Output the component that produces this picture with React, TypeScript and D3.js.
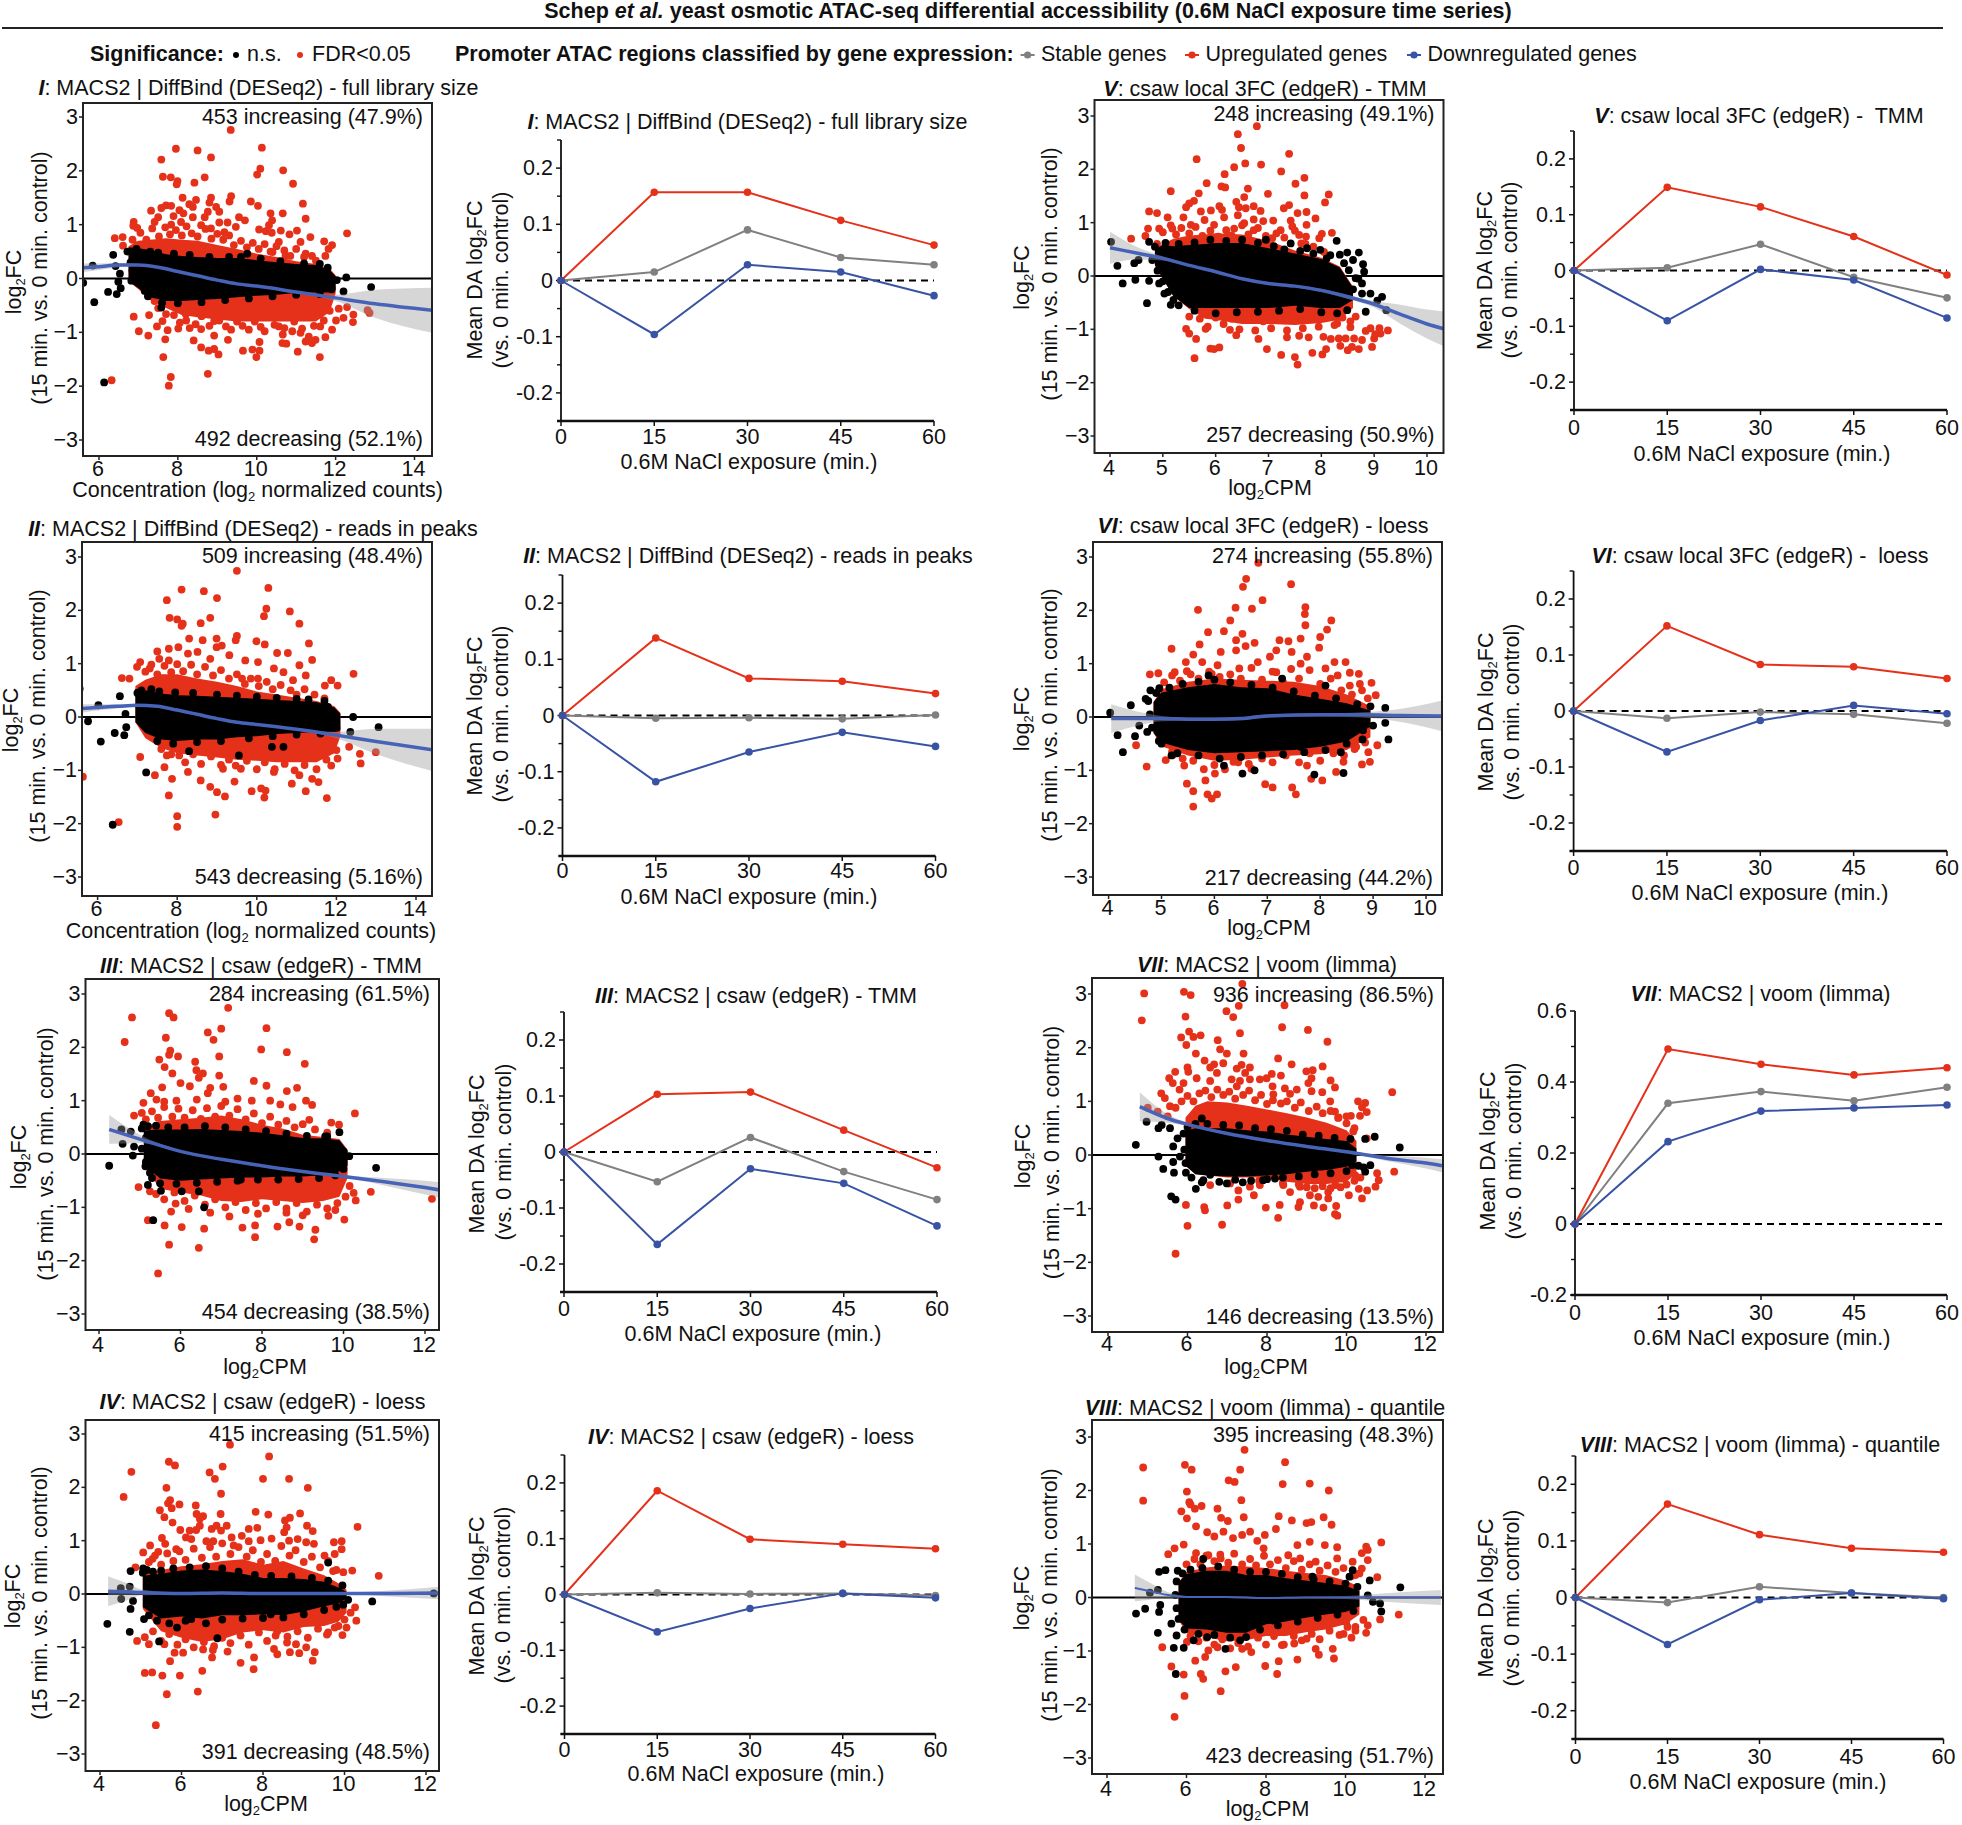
import React from "react";
import * as d3 from "d3";

type P = [number, number];
const FONT = "'Liberation Sans', Arial, sans-serif";
const RED = "#e5301a", GRAY = "#808080", BLUE = "#3953a4", LOESS = "#4763b8";

// ---------- time series ----------
const minutes = [0, 15, 30, 45, 60];
const upI = [0, .157, .157, .107, .063], stI = [0, .015, .09, .041, .028], dnI = [0, -.096, .028, .015, -.027];
const upII = [0, .138, .066, .061, .039], stII = [0, -.005, -.004, -.006, .001], dnII = [0, -.118, -.065, -.03, -.055];
const upIII = [0, .103, .107, .039, -.028], stIII = [0, -.053, .026, -.035, -.085], dnIII = [0, -.165, -.03, -.056, -.132];
const upIV = [0, .186, .099, .09, .082], stIV = [0, .003, .001, .002, -.002], dnIV = [0, -.067, -.025, .002, -.006];
const upV = [0, .149, .114, .061, -.008], stV = [0, .005, .047, -.012, -.049], dnV = [0, -.09, .002, -.017, -.085];
const upVI = [0, .152, .083, .079, .058], stVI = [0, -.013, -.002, -.006, -.022], dnVI = [0, -.073, -.017, .01, -.005];
const upVII = [0, .493, .45, .42, .44], stVII = [0, .34, .373, .347, .385], dnVII = [0, .232, .318, .327, .335];
const upVIII = [0, .165, .111, .087, .08], stVIII = [0, -.009, .019, .008, 0], dnVIII = [0, -.083, -.004, .008, -.002];

// ---------- MA plots: significant regions (red), isolated n.s. regions (black) ----------
const redI: P[] = [[9.34,2.76],[7.95,2.41],[8.5,2.38],[8.84,2.25],[7.58,2.21],[10.13,2.43],[10.09,2.04],[10.01,1.93],[10.67,2.01],[10.92,1.76],[7.62,1.89],[7.82,1.88],[7.99,1.81],[7.97,1.75],[8.42,1.78],[8.68,1.88],[8.12,1.5],[9.35,1.53],[9.31,1.43],[8.84,1.5],[8.8,1.41],[8.46,1.46],[8.29,1.38],[8.38,1.33],[9.85,1.43],[10.03,1.35],[11.17,1.39],[7.7,1.36],[7.58,1.31],[7.83,1.35],[7.32,1.26],[8.04,1.27],[8.14,1.21],[8.97,1.33],[8.76,1.24],[9.05,1.24],[10.35,1.21],[10.66,1.21],[11.24,1.11],[8.38,1.14],[8.68,1.14],[7.5,1.14],[7.89,1.16],[9.55,1.14],[9.7,1.08],[10.39,1.08],[10.31,.99],[6.88,1.05],[6.87,.98],[6.97,.94],[12.29,.84],[7.41,1.05],[7.83,1],[8.08,1.05],[9.05,1.04],[9.26,1.04],[9.47,.96],[9.18,.86],[8.59,.99],[8.84,.93],[10.06,.91],[10.23,.88],[10.38,.85],[10.61,.89],[10.83,.82],[11.02,.89],[6.4,.75],[6.6,.77],[6.61,.61],[11.36,.77],[11.11,.68],[11.71,.69],[11.91,.62],[11.82,.55],[11.74,.42],[11.4,.42],[11.24,.46],[10.56,.68],[10.4,.49],[10.73,.42],
[6.88,-.71],[7.27,-.68],[7.01,-.98],[7.25,-1.06],[7.47,-.89],[7.61,-.79],[7.74,-.96],[7.68,-1.13],[7.63,-1.46],[8.01,-.93],[8.3,-.92],[8.59,-.94],[8.21,-.78],[8.4,-1.15],[8.59,-1.28],[8.78,-1.34],[8.92,-1.31],[9.03,-1.41],[8.76,-1.77],[7.82,-1.83],[7.77,-1.99],[6.32,-1.89],[8.92,-1.06],[9.27,-1.14],[9.65,-1.34],[9.89,-1.32],[10.07,-1.34],[9.99,-1.46],[10.07,-1.18],[10.66,-1.04],[10.65,-1.2],[10.75,-1.21],[11.04,-1.36],[11.6,-1.46],[11.74,-1.09],[10.9,-.98],[11.11,-1.01],[11.24,-1.17],[11.4,-1.2],[11.49,-1.14],[11.32,-1.08],[11.91,-.95],[11.61,-.89],[12.01,-.78],[12.2,-.73],[12.45,-.67],[12.44,-.81],[12.81,-.59],[12.86,-.64],[12.08,-.56],[12.29,-.53],[10.56,-.89],[10.1,-.9],[9.64,-.88],[9.22,-.89],[8.92,-.79],[7.41,-.42]];
const moreRedI: P[] = [[7.05,.85],[7.2,.72],[7.35,.93],[7.52,.78],[7.68,.95],[7.8,.82],[7.95,.9],[8.1,.8],[8.22,.97],[8.35,.84],[8.5,.78],[8.7,.92],[8.85,.74],[9,.83],[9.15,.72],[9.3,.8],[9.42,.62],[9.6,.7],[9.75,.58],[9.9,.66],[10.05,.55],[10.2,.64],[10.35,.5],[10.5,.6],[10.7,.52],[10.85,.42],[11,.55],[11.2,.4],[11.5,.33],[6.85,.72],[6.98,.62],[7.9,-.68],[8.05,-.82],[8.2,-.66],[8.45,-.85],[8.6,-.7],[8.8,-.88],[9.05,-.78],[9.35,-.95],[9.5,-.8],[9.8,-.95],[9.95,-.8],[10.2,-.98],[10.45,-.86],[10.7,-.92],[10.95,-.8],[11.15,-.93],[11.45,-.88],[11.7,-.78],[11.85,-.6],[7.5,-.55],[7.7,-.66]];
const blackI: P[] = [[6.36,.44],[5.84,.24],[6.42,.23],[6.53,.09],[6.49,-.06],[6.55,-.18],[6.45,-.29],[6.23,-.25],[5.88,-.44],[5.6,-.08],[6.13,-1.93],[6.82,-.04],[7.16,-.23],[7.24,-.33],[7.58,-.54],[12.9,-.16],[12.27,.02],[12.03,-.03],[12.2,-.24],[9.76,.46]];
const moreBlackI: P[] = [[6.72,.5],[6.8,.3],[6.85,.15],[6.95,.55],[7.05,.42],[7.12,-.1],[7.3,.5],[7.5,.48],[7.9,.46],[8.3,.44],[8.8,.4],[9.3,.4],[9.6,.4],[10.1,.37],[10.6,.32],[11.2,.28],[11.6,.27],[11.8,.2],[7.6,-.45],[8,-.46],[8.6,-.44],[9.2,-.4],[9.8,-.37],[10.4,-.33],[11,-.3],[11.6,-.29],[11.9,-.2]];
const envI = [[6.75,.6,.58,-.05,-.05],[7,.7,.56,-.18,-.2],[7.3,.72,.53,-.35,-.4],[7.7,.75,.45,-.42,-.55],[8.1,.72,.42,-.42,-.68],[8.5,.7,.4,-.4,-.72],[9,.62,.38,-.38,-.76],[9.5,.55,.38,-.35,-.8],[10,.46,.34,-.32,-.8],[10.5,.4,.3,-.3,-.8],[11,.32,.27,-.27,-.8],[11.5,.27,.25,-.26,-.8],[11.85,.18,.16,-.26,-.62],[12,.06,.04,-.2,-.28]];
const loessI = [[5.6,.2,.08],[6,.22,.06],[6.5,.25,.04],[7,.25,.02],[7.5,.21,.02],[8,.13,.02],[8.5,.05,.02],[9,-.03,.02],[9.5,-.1,.02],[10,-.14,.02],[11,-.25,.02],[12,-.36,.06],[13,-.47,.26],[14.45,-.59,.42]];

const redII: P[] = [[9.5,2.74],[8.11,2.39],[8.67,2.36],[10.29,2.42],[7.74,2.19],[9,2.23],[10.24,2.03],[10.83,1.98],[10.18,1.89],[11.07,1.75],[7.81,1.86],[8,1.83],[8.14,1.75],[8.11,1.71],[8.59,1.76],[8.83,1.86],[9.5,1.52],[9.47,1.44],[9.99,1.42],[10.2,1.36],[11.31,1.38],[6.61,.73],[6.8,.72],[7.07,1.03],[6.99,.94],[7.5,1.23],[7.79,1.28],[8.03,1.31],[8.3,1.47],[8.64,1.44],[8.99,1.47],[9.12,1.34],[8.27,1.19],[8.51,1.22],[8.99,1.31],[8.83,1.09],[9.31,1.16],[9.71,1.06],[10.03,1.03],[10.51,1.2],[10.78,1.2],[11.39,1.07],[10.43,.91],[10.67,.84],[11.07,.97],[11.87,.69],[12.03,.59],[12.43,.81],[11.71,.59],[11.23,.78],[10.91,.69],[10.03,.72],[9.63,.72],[7.55,1.09],[7.31,.91],[7.79,1.06],
[5.63,-1.12],[7.07,-.75],[7.44,-1.09],[7.87,-1.16],[7.79,-1.47],[8,-1.86],[8,-2.06],[8.96,-1.83],[6.53,-1.97],[8.59,-1.19],[8.83,-1.31],[9,-1.41],[9.2,-1.49],[9.44,-1.21],[9.87,-1.39],[10.11,-1.34],[10.19,-1.51],[10.22,-1.38],[10.88,-1.25],[11.23,-1.39],[11.76,-1.52],[11.55,-1.22],[11.07,-1.09],[11.39,-1.16],[12.59,-.69],[12.99,-.66],[12.61,-.87],[12.32,-.56],[12.03,-.78],[11.87,-.91],[7.74,-.72],[7.68,-.94],[8.27,-1.03],[9.15,-.97],[9.47,-.91],[10.43,-1.03]];
const moreRedII: P[] = [[7.2,.85],[7.35,.98],[7.5,.8],[7.68,.96],[7.85,.84],[8,.99],[8.15,.86],[8.35,.98],[8.5,.8],[8.7,.94],[8.9,.78],[9.1,.88],[9.3,.72],[9.5,.8],[9.7,.62],[9.85,.72],[10.05,.58],[10.25,.66],[10.4,.52],[10.6,.6],[10.85,.5],[11,.42],[11.2,.52],[11.45,.42],[11.7,.35],[8.05,-.72],[8.2,-.85],[8.4,-.7],[8.6,-.88],[8.85,-.74],[9.1,-.9],[9.3,-.8],[9.6,-.97],[9.75,-.82],[10,-.98],[10.2,-.85],[10.45,-.98],[10.7,-.88],[10.95,-1],[11.2,-.9],[11.5,-.98],[11.75,-.8],[12,-.62],[7.6,-.6],[7.85,-.7]];
const blackII: P[] = [[6.56,.39],[6.02,.22],[5.76,-.08],[6.08,-.46],[6.43,-.3],[6.67,-.34],[6.7,.06],[6.72,-.19],[6.38,-2.02],[7.22,-1.04],[8.3,-.64],[9.55,-.72],[10.38,-.56],[10.67,-.56],[13.06,-.19],[12.42,0],[12.35,-.28],[11.79,.19],[5.55,.53]];
const moreBlackII: P[] = [[7,.45],[7.05,.2],[7.1,.5],[7.2,-.15],[7.35,.52],[7.55,.48],[7.95,.46],[8.4,.45],[9,.42],[9.5,.4],[10,.38],[10.5,.36],[11,.34],[11.3,.33],[11.7,.3],[7.5,-.45],[7.9,-.5],[8.5,-.47],[9.1,-.45],[9.8,-.4],[10.4,-.36],[11,-.33],[11.6,-.31],[12,-.2]];
const envII = [[6.95,.58,.53,-.1,-.1],[7.2,.7,.5,-.3,-.4],[7.6,.8,.44,-.42,-.58],[8,.8,.41,-.45,-.68],[8.5,.72,.4,-.42,-.72],[9,.66,.38,-.42,-.76],[9.5,.58,.36,-.38,-.8],[10,.48,.34,-.36,-.82],[10.5,.42,.32,-.32,-.85],[11,.36,.3,-.3,-.85],[11.5,.3,.28,-.28,-.85],[11.95,.2,.18,-.28,-.68],[12.1,.08,.06,-.25,-.36]];
const loessII = [[5.6,.16,.08],[6,.18,.06],[6.5,.2,.04],[7,.22,.02],[7.5,.2,.02],[8,.13,.02],[8.5,.05,.02],[9,-.03,.02],[9.5,-.1,.02],[10,-.14,.02],[11,-.23,.02],[12,-.34,.06],[13,-.46,.24],[14.45,-.62,.4]];

const redIII: P[] = [[7.17,2.74],[8.11,2.36],[5.72,2.64],[5.83,2.56],[4.81,2.56],[7,2.35],[6.67,2.28],[6.81,2.14],[7.98,1.96],[8.61,1.91],[9.05,1.69],[5.64,2.18],[4.63,2.1],[6.95,1.83],[5.75,1.94],[5.72,1.86],[5.94,1.83],[5.48,1.77],[5.61,1.63],[5.8,1.51],[6.36,1.73],[6.39,1.57],[6.55,1.51],[6.95,1.47],[6.45,1.43],[7.8,1.37],[8.11,1.28],[8.86,1.24],[8.61,1.18],[6,1.33],[5.55,1.25],[5.27,1.14],[6.23,1.27],[6.73,1.24],[7.05,1.26],[6.67,1.14],[5.09,.96],[5.41,1.02],[9.08,1],[9.23,.92],[4.86,.72],[5.05,.77],[9.16,.64],[10.28,.76],[9.7,.59],[9.89,.55],[7.4,1.04],[7.75,1],[8.2,1],[8.45,.93],[8.75,.88],[7.1,.98],[6.4,1.02],[5.9,1],[5.6,.98],
[4.97,-.62],[5.25,-.7],[5.2,-1.24],[5.61,-1.34],[6.03,-1.37],[6.58,-1.4],[5.72,-1.7],[6.45,-1.76],[5.45,-2.24],[12.17,-.84],[10.67,-.71],[10.25,-.73],[10.3,-.87],[10.02,-1.23],[9.63,-1.16],[9.31,-1.42],[9.28,-1.6],[8.92,-1.36],[8.67,-1.28],[8.38,-1.36],[7.83,-1.34],[7.83,-1.56],[7.52,-1.38],[7.2,-1.17],[6.73,-1.1],[5.88,-.93],[5.77,-1.08],[8.6,-1.1],[9,-1.15],[9.8,-1.05],[6.2,-1.03],[7.9,-1.12]];
const moreRedIII: P[] = [[5.15,.65],[5.3,.8],[5.45,.68],[5.6,.88],[5.8,.7],[5.95,.85],[6.1,.68],[6.3,.82],[6.5,.66],[6.65,.86],[6.85,.7],[7,.9],[7.2,.72],[7.4,.84],[7.6,.65],[7.8,.76],[8,.58],[8.2,.7],[8.4,.55],[8.6,.62],[8.8,.5],[9,.56],[9.3,.46],[9.6,.4],[5.4,-.75],[5.6,-.85],[5.85,-.72],[6.1,-.88],[6.35,-.78],[6.6,-.95],[6.85,-.85],[7.1,-1],[7.35,-.9],[7.6,-1.05],[7.85,-.92],[8.1,-1.02],[8.35,-.9],[8.6,-1.02],[8.85,-.92],[9.1,-1.08],[9.35,-.95],[9.6,-1.02],[9.85,-.92],[10.05,-.8],[10.15,-.6]];
const blackIII: P[] = [[4.25,-.22],[10.8,-.26],[4.55,.46],[4.78,.42],[4.58,.19],[4.86,.14],[4.83,-.03],[5.14,-.23],[5.3,-.45],[5.2,-.58],[5.52,-.69],[6.03,-.7],[6.45,-.7],[6.58,-1],[5.33,-1.24],[7.48,-.48],[10.14,-.04],[9.9,.41],[9.55,.33],[5.09,.55],[10,.05],[10,-.28]];
const moreBlackIII: P[] = [[5.05,.48],[5.15,.3],[5.2,.52],[5.05,.1],[5.15,-.15],[5.25,-.35],[5.4,.53],[5.7,.5],[6.1,.5],[6.6,.52],[7.1,.5],[7.6,.46],[8.1,.43],[8.6,.38],[9.1,.34],[9.6,.33],[5.5,-.55],[5.9,-.56],[6.4,-.54],[6.9,-.52],[7.4,-.5],[7.9,-.48],[8.4,-.48],[8.9,-.47],[9.4,-.45],[9.8,-.4]];
const envIII = [[5.1,.5,.44,-.2,-.22],[5.5,.62,.46,-.46,-.65],[6,.65,.46,-.5,-.72],[6.5,.68,.47,-.48,-.78],[7,.72,.45,-.46,-.88],[7.5,.65,.43,-.44,-.9],[8,.55,.4,-.44,-.85],[8.5,.48,.35,-.42,-.88],[9,.36,.3,-.42,-.92],[9.5,.32,.29,-.4,-.88],[9.9,.28,.26,-.33,-.8],[10.1,.08,.06,-.22,-.45]];
const loessIII = [[4.25,.46,.27],[5,.28,.08],[6,.05,.02],[7,-.1,.02],[8,-.22,.02],[9,-.33,.02],[10,-.42,.02],[11,-.52,.07],[12,-.63,.13],[12.4,-.68,.15]];

const redIV: P[] = [[7.19,2.8],[8.15,2.58],[5.69,2.48],[5.84,2.41],[4.77,2.29],[7.01,2.39],[6.69,2.28],[6.82,2.16],[8,2.16],[8.64,2.16],[9.1,1.99],[5.63,1.99],[4.58,1.82],[6.97,1.88],[5.72,1.76],[5.67,1.7],[5.76,1.61],[5.95,1.68],[5.47,1.57],[5.58,1.44],[5.78,1.34],[6.35,1.66],[6.37,1.5],[6.53,1.46],[6.45,1.41],[6.96,1.5],[7.82,1.54],[8.13,1.49],[8.91,1.51],[8.66,1.43],[8.54,1.38],[10.32,1.26],[9.08,1.28],[9.22,1.18],[6.45,1.28],[6.36,1.2],[5.97,1.2],[6.2,1.19],[6.74,1.22],[6.86,1.28],[7.11,1.28],[6.97,1.19],[7.65,1.22],[7.86,1.24],[8.58,1.25],[8.52,1.16],[5.52,1.05],[6.11,1.06],[6.24,1.03],[5.6,.94],[5.23,.91],[5.87,.84],[5.06,.78],[5.43,.79],[5.29,.66],[6.61,.99],[6.78,.99],[7.23,1.06],[7.48,1.09],[7.28,.91],[7.65,.99],[7.94,1.01],[8.21,1.04],[8.64,1],[8.85,1.03],[9.06,.97],[9.25,.94],[9.74,.97],[9.93,.99],[9.93,.84],[9.76,.75],[9.51,.72],[10.19,.44],[10.84,.34],[4.87,.5],[9.97,.41],[9.72,.43],
[4.91,-.88],[5.1,-1.48],[5.28,-1.47],[5.53,-1.53],[5.96,-1.53],[5.64,-1.88],[6.4,-1.83],[5.37,-2.46],[6.51,-1.44],[5.72,-1.26],[5.83,-1.1],[6.04,-1.1],[5.1,-.81],[5.2,-.94],[5.58,-.94],[6.75,-1.19],[6.77,-1.05],[7.13,-1.08],[6.53,-1.04],[7.45,-1.29],[7.78,-1.19],[7.77,-1.41],[8.27,-1.03],[8.35,-1.13],[8.66,-1.09],[8.89,-1.11],[9.27,-1.09],[9.22,-1.25],[9.06,-1],[8.59,-.91],[8.81,-.94],[8.31,-.78],[9.57,-.76],[9.95,-.77],[10.05,-.63],[10.29,-.5],[10.26,-.25],[9.76,-.63]];
const moreRedIV: P[] = [[5.2,.6],[5.35,.72],[5.5,.55],[5.65,.76],[5.8,.62],[5.95,.8],[6.1,.64],[6.3,.85],[6.5,.68],[6.7,.88],[6.85,.7],[7,.95],[7.2,.75],[7.4,.88],[7.6,.7],[7.75,.82],[7.95,.6],[8.1,.75],[8.3,.62],[8.45,.9],[8.65,.72],[8.8,.82],[9,.6],[9.2,.7],[9.4,.5],[9.6,.62],[9.8,.45],[5.3,-.7],[5.5,-.88],[5.7,-.75],[5.9,-.95],[6.1,-.85],[6.3,-1],[6.55,-.9],[6.8,-.98],[7,-.82],[7.2,-.92],[7.45,-.78],[7.65,-.95],[7.9,-.72],[8.1,-.88],[8.35,-.7],[8.6,-.8],[8.85,-.7],[9.1,-.82],[9.35,-.65],[9.6,-.72],[9.85,-.6],[10,-.48],[10.15,-.35]];
const blackIV: P[] = [[4.18,-.56],[4.73,-.71],[4.52,-.09],[4.51,.11],[4.73,.14],[4.75,.43],[5.06,.48],[4.81,-.13],[4.75,-.28],[5.08,-.47],[5.45,-.89],[5.89,-.63],[6.88,-.83],[9.6,.59],[10.68,-.14],[12.19,.01],[6.24,-.47],[8.19,-.38],[10.09,-.11],[9.97,-.2],[9.95,.16]];
const moreBlackIV: P[] = [[5.05,.4],[5.15,.45],[5.3,.42],[5.5,.44],[5.8,.48],[6.2,.5],[6.6,.52],[7,.48],[7.4,.42],[7.8,.36],[8.2,.34],[8.7,.33],[9.2,.3],[9.6,.25],[5.2,-.4],[5.4,-.5],[5.7,-.55],[6.1,-.5],[6.6,-.55],[7,-.48],[7.5,-.46],[8,-.45],[8.5,-.44],[9,-.38],[9.5,-.3],[9.8,-.24]];
const envIV = [[5.05,.36,.34,-.25,-.28],[5.5,.45,.38,-.46,-.7],[6,.52,.44,-.42,-.82],[6.5,.56,.46,-.46,-.9],[7,.62,.43,-.4,-.85],[7.5,.65,.38,-.4,-.72],[8,.55,.3,-.38,-.68],[8.5,.62,.3,-.4,-.72],[9,.48,.28,-.33,-.62],[9.5,.35,.23,-.23,-.6],[9.85,.2,.12,-.18,-.52],[10.05,.08,.04,-.08,-.35]];
const loessIV = [[4.2,.05,.28],[4.7,.04,.15],[5,.03,.06],[6,.01,.02],[7,.02,.02],[8,.01,.02],[9,.01,.02],[10,.01,.02],[11,.01,.05],[12.4,.02,.12]];

const redV: P[] = [[6.78,2.81],[6.42,2.66],[6.48,2.4],[7.39,2.29],[5.64,2.19],[6.56,2.11],[6.35,2.04],[6.86,2.09],[7.24,1.96],[6.17,1.91],[7.68,1.84],[7.51,1.73],[5.83,1.74],[6.11,1.68],[6.18,1.66],[6.61,1.64],[5.15,1.59],[5.68,1.55],[6.99,1.54],[7.68,1.51],[8.14,1.53],[8.07,1.38],[5.59,1.41],[5.5,1.36],[5.44,1.29],[6.54,1.48],[6.39,1.39],[6.44,1.29],[6.07,1.31],[6.12,1.24],[5.72,1.21],[5.91,1.23],[6.72,1.31],[6.57,1.27],[6.85,1.22],[7.39,1.33],[7.29,1.27],[7.55,1.18],[7.72,1.2],[4.74,1.21],[4.89,1.18],[5.09,1.1],[5.39,1.1],[6.42,1.14],[6.16,1.1],[7.89,1.08],[7.09,1.04],[6.9,1.03],[6.72,1.06],[5.79,1.05],[7.42,1.04],[6.54,.99],[7.72,.96],[7.45,.93],[7.23,.86],[8.2,.81],[8.01,.79],[4.72,.89],[4.67,.75],[4.4,.7],[4.93,.89],[5.18,.89],[5.53,.96],[5.97,.96],[6.35,.89],[6.72,.86],[7.58,.77],[7.71,.74],[7.96,.71],[7.62,.61],[7.07,.71],[4.89,.6],
[5.44,-.99],[5.5,-1.08],[5.63,-1.18],[5.6,-1.54],[5.9,-1.36],[6.07,-1.34],[5.97,-1.37],[5.5,-.76],[5.81,-.99],[6.27,-1.01],[6.39,-1.11],[6.81,-1.18],[6.97,-1.37],[7.24,-1.48],[7.5,-1.52],[7.55,-1.66],[7.83,-1.44],[8.02,-1.47],[8.09,-1.37],[7.58,-1.12],[7.35,-1.15],[7.76,-1.15],[8.04,-1.14],[8.18,-1.18],[8.33,-1.17],[8.46,-1.17],[8.36,-1.31],[8.5,-1.39],[8.58,-1.33],[8.71,-1.37],[8.77,-1.2],[8.96,-1.33],[8.62,-1.17],[8.84,-1.03],[9,-1.17],[9.12,-1.08],[9.26,-1.02],[8.93,-.98],[9.1,-.98],[9.02,-1.09],[8.55,-.96],[8.65,-.76],[8.3,-.89],[7.41,-.48]];
const moreRedV: P[] = [[5,.82],[5.15,.95],[5.25,.78],[5.35,.9],[5.5,.8],[5.62,.92],[5.75,.75],[5.9,.85],[6.05,.74],[6.2,.86],[6.3,.76],[6.5,.95],[6.62,.78],[6.8,.9],[6.95,.75],[7.15,.8],[7.3,.72],[7.5,.85],[7.7,.6],[7.85,.55],[8.05,.45],[5.7,-.8],[5.85,-.95],[6,-.78],[6.15,-.9],[6.3,-.8],[6.45,-1],[6.6,-.82],[6.75,-1.02],[6.9,-.85],[7.05,-.98],[7.2,-.8],[7.35,-1.02],[7.5,-.82],[7.65,-.98],[7.8,-.8],[7.95,-.95],[8.1,-.78],[8.25,-.92],[8.4,-.78],[8.55,-.85]];
const blackV: P[] = [[4.02,.64],[4.14,.19],[4.46,.24],[4.54,.3],[4.24,-.14],[4.48,-.07],[4.74,-.09],[4.7,-.51],[4.93,-.14],[5.03,-.33],[5.15,-.54],[8.29,.66],[8.49,.44],[8.71,.44],[8.79,.22],[8.81,.08],[8.77,-.14],[8.77,-.33],[8.93,-.33],[9.15,-.39],[9.06,-.46],[8.84,-.67],[9.23,-.64],[7.42,.61],[7.73,.52],[7.98,.49],[8.17,.39],[8.43,.24],[8.52,.11],[8.65,-.04],[8.49,-.64],[4.74,.64],[6.95,.68],[8.6,.3],[8.7,-.05],[8.6,-.25],[8.35,.4]];
const moreBlackV: P[] = [[4.85,.55],[4.8,.3],[4.9,.1],[5,-.1],[5.1,-.3],[5.2,-.45],[5.3,-.55],[5.05,.62],[5.3,.6],[5.6,.63],[5.9,.68],[6.2,.66],[6.5,.68],[6.8,.62],[7.1,.56],[7.3,.5],[7.6,.47],[7.85,.42],[8.1,.33],[5.6,-.65],[6,-.7],[6.4,-.68],[6.8,-.67],[7.2,-.65],[7.6,-.62],[8,-.68],[8.3,-.7]];
const envV = [[4.85,.5,.5,.2,.2],[5,.6,.58,-.05,-.05],[5.2,.7,.56,-.38,-.38],[5.5,.76,.58,-.6,-.62],[5.8,.78,.6,-.6,-.8],[6,.8,.62,-.6,-.82],[6.5,.78,.62,-.6,-.9],[7,.66,.52,-.6,-.9],[7.5,.48,.42,-.56,-.92],[8,.34,.32,-.6,-.88],[8.35,.18,.16,-.6,-.82],[8.6,-.2,-.22,-.45,-.6]];
const loessV = [[4,.53,.3],[4.5,.43,.12],[5,.33,.04],[5.5,.2,.02],[6,.08,.02],[6.5,-.05,.02],[7,-.14,.02],[7.5,-.19,.02],[8,-.27,.03],[8.5,-.39,.04],[9,-.53,.06],[9.5,-.72,.18],[10,-.9,.27],[10.35,-1,.33]];

const redVI: P[] = [[6.83,2.89],[6.6,2.59],[6.54,2.44],[7.45,2.49],[6.91,2.19],[5.69,2.01],[6.4,2.05],[6.71,2.03],[7.72,2.06],[7.71,1.93],[8.21,1.81],[6.3,1.81],[7.72,1.72],[8.13,1.64],[5.88,1.59],[6.18,1.61],[6.53,1.56],[8,1.5],[5.19,1.28],[5.72,1.36],[6.41,1.44],[6.76,1.39],[6.59,1.33],[6.41,1.25],[7.23,1.44],[7.4,1.42],[7.63,1.47],[7.98,1.3],[6.12,1.22],[5.6,1.17],[5.46,1.03],[5.77,1.03],[7.17,1.25],[7.46,1.22],[8.27,1.03],[8.48,1.03],[7.75,1.13],[7.63,1],[6.06,.97],[5.95,.81],[4.78,.8],[4.94,.82],[5.25,.84],[5.48,.86],[8.73,.81],[8.56,.83],[8.97,.64],[9.05,.41],[8.1,.91],[8.33,.78],[8.79,.5],[8.56,.59],[7.17,.84],[6.47,.91],[6.82,1.03],[7.05,1.13],
[4.52,-.53],[4.72,-.93],[5.08,-.81],[5.22,-.71],[5.48,-1.25],[5.6,-1.39],[5.6,-1.68],[5.87,-1.45],[5.95,-1.53],[6.05,-1.45],[5.83,-1.19],[6.01,-1.06],[6.96,-1.26],[7.1,-1.32],[7.47,-1.32],[7.54,-1.45],[7.83,-1.16],[8.04,-1.19],[7.75,-.91],[8.3,-1.03],[8.79,-.89],[8.94,-.84],[9.08,-.53],[8.91,-.66],[8.68,-.56],[8.44,-.84],[6.7,-.97],[6.36,-.84],[5.43,-.91]];
const moreRedVI: P[] = [[5.05,.65],[5.2,.78],[5.35,.68],[5.55,.8],[5.7,.72],[5.9,.85],[6.1,.75],[6.3,.8],[6.5,.72],[6.7,.92],[6.9,.7],[7.1,.85],[7.3,.65],[7.45,.9],[7.6,.72],[7.8,.88],[8,.62],[8.2,.72],[8.4,.5],[8.6,.42],[8.75,.62],[8.9,.35],[5.2,-.65],[5.4,-.78],[5.6,-.82],[5.8,-.98],[6,-.9],[6.2,-.98],[6.45,-.85],[6.65,-.88],[6.9,-.78],[7.1,-.85],[7.35,-.72],[7.6,-.85],[7.8,-.68],[8,-.82],[8.25,-.68],[8.45,-.72],[8.65,-.6],[8.85,-.48]];
const blackVI: P[] = [[4.03,.08],[4.42,.22],[4.17,-.34],[4.27,-.66],[4.5,-.36],[4.58,-.16],[4.73,-.28],[5,-.5],[5.19,-.72],[4.79,.5],[4.96,.54],[4.7,.34],[9.23,.17],[9.23,-.11],[9.29,-.42],[8.81,-.25],[9,-.16],[7.89,-1.08],[8.44,-1.05],[6.53,-1.06],[6.76,-1],[6.18,-.91],[5.89,.78],[7.28,.72],[8.1,.59],[8.39,-.66],[7.63,-.56],[8.62,-.28]];
const moreBlackVI: P[] = [[4.75,.3],[4.78,.05],[4.82,-.2],[4.9,.45],[5.15,.55],[5.4,.62],[5.7,.66],[6,.7],[6.3,.65],[6.7,.6],[7.1,.55],[7.5,.48],[7.9,.4],[8.3,.35],[8.7,.24],[8.95,.2],[4.95,-.45],[5.3,-.68],[5.7,-.72],[6.1,-.78],[6.5,-.75],[6.9,-.72],[7.3,-.7],[7.7,-.66],[8.1,-.62],[8.5,-.5],[8.8,-.42]];
const envVI = [[4.85,.28,.28,-.3,-.3],[5,.52,.46,-.48,-.55],[5.5,.66,.56,-.62,-.72],[6,.72,.62,-.68,-.82],[6.5,.7,.56,-.66,-.8],[7,.68,.54,-.64,-.76],[7.5,.66,.42,-.62,-.72],[8,.58,.34,-.56,-.7],[8.5,.42,.26,-.46,-.62],[8.95,.2,.12,-.18,-.38]];
const loessVI = [[4.05,-.03,.27],[4.6,-.03,.12],[5,-.03,.05],[5.5,-.04,.03],[6,-.04,.03],[6.5,-.03,.03],[7,.02,.03],[8,.04,.03],[8.8,.04,.05],[9.5,.03,.12],[10.35,.02,.3]];

const redVII: P[] = [[7.38,3.19],[4.91,3.01],[5.91,3.04],[6.08,2.98],[8.44,2.79],[7.29,2.78],[6.98,2.68],[7.15,2.57],[4.85,2.51],[5.95,2.58],[8.38,2.38],[9.03,2.33],[7.32,2.27],[6.04,2.3],[5.84,2.19],[6.15,2.2],[6.33,2.23],[5.97,2.05],[6.76,2.14],[9.52,2.11],[6.21,1.89],[6.82,1.97],[6.99,1.89],[7.41,1.89],[6.43,1.76],[6.9,1.71],[8.28,1.8],[8.62,1.69],[9.4,1.65],[6.67,1.69],[6.57,1.63],[6,1.63],[6.02,1.55],[5.69,1.55],[7.24,1.61],[7.36,1.68],[7.57,1.63],[6.74,1.53],[7.45,1.53],[8.99,1.56],[9.15,1.58],[8.35,1.48],[8.12,1.51],[5.54,1.43],[6.23,1.43],[6.57,1.38],[7.11,1.41],[7.32,1.38],[7.82,1.41],[7.99,1.43],[9.12,1.43],[9.6,1.39],[5.63,1.34],[5.9,1.34],[7.57,1.41],[9.04,1.34],[9.71,1.26],[7.24,1.28],[8.14,1.28],[8.45,1.24],[8.75,1.22],[11.15,1.17],[5.34,1.15],[5.8,1.22],[8.58,1.14],[9.12,1.19],[9.39,1.17],[5.43,1.06],[8.16,1.13],[9.59,1],[10.29,1],[10.47,.97],[10.39,.89],[10.51,.8],[10.34,.73],[10.11,.73],[9.71,.81],[9.79,.69],[10,.59],[10.17,.44],[10.51,.31],[5.56,.91],[5,.88],[5.25,.81],
[5.96,-.93],[6.42,-.97],[6.44,-1.03],[6,-1.32],[5.7,-1.84],[6.87,-1.3],[7,-.94],[7.28,-.83],[7.28,-.66],[7.67,-.75],[7.97,-.98],[8.32,-.93],[8.28,-1.17],[8.79,-.97],[8.83,-.88],[9.18,-.94],[9.42,-.98],[9.74,-.95],[9.71,-1.1],[9.77,-1.13],[9.54,-.81],[9.29,-.78],[9.08,-.75],[9.54,-.69],[8.83,-.59],[8.58,-.69],[8.41,-.56],[7.82,-.56],[7.57,-.59],[7.07,-.53],[6.57,-.56],[10.06,-.75],[10.39,-.81],[10.31,-.63],[10.52,-.66],[10.77,-.34],[10.81,-.47],[10.73,-.59],[11.2,-.31],[10.22,-.38],[9.72,-.56],[9.93,-.44],[9.42,-.44]];
const moreRedVII: P[] = [[5.5,.72],[5.7,.88],[5.85,1],[6,1.1],[6.15,1],[6.3,1.15],[6.45,1.2],[6.6,1.08],[6.75,1.22],[6.9,1.12],[7.05,1.18],[7.2,1.05],[7.4,1.12],[7.55,1.2],[7.7,1.02],[7.85,1.12],[8,.95],[8.15,1.02],[8.35,.96],[8.5,1],[8.7,.88],[8.85,.98],[9.05,.82],[9.25,.9],[9.4,.78],[9.6,.82],[9.8,.7],[10,.72],[10.2,.5],[7.8,-.48],[8.4,-.52],[8.8,-.55],[9,-.6],[9.2,-.62],[9.4,-.58],[9.6,-.62],[9.85,-.6],[10,-.55],[10.2,-.48],[10.35,-.42]];
const blackVII: P[] = [[4.7,.19],[4.97,.62],[5.27,.5],[5.35,.56],[5.56,.5],[5.64,.16],[5.27,-.03],[5.64,-.13],[5.39,-.26],[5.66,-.33],[5.59,-.77],[5.7,-.83],[6.21,-.63],[6.36,-.51],[5.96,-.33],[5.75,.31],[5.81,-.03],[6.36,.68],[10.71,.34],[10.47,.3],[11.34,.14],[10.6,-.19],[10.43,-.23],[10.47,-.31],[10.14,-.19],[6.99,-.53],[7.39,-.51],[6.57,-.37],[7.9,-.47],[8.2,-.44]];
const moreBlackVII: P[] = [[5.9,.4],[5.92,.1],[5.95,-.15],[6,.52],[6.2,.58],[6.5,.58],[6.9,.56],[7.3,.55],[7.7,.5],[8.1,.48],[8.5,.45],[8.9,.38],[9.3,.36],[9.7,.32],[10.1,.3],[6.1,-.42],[6.4,-.47],[6.8,-.5],[7.2,-.46],[7.6,-.48],[8,-.45],[8.4,-.42],[8.8,-.4],[9.2,-.36],[9.6,-.34],[10,-.3],[10.3,-.2]];
const envVII = [[5.95,.7,.45,-.2,-.2],[6.2,.92,.5,-.36,-.36],[6.5,1,.5,-.38,-.38],[7,.98,.5,-.4,-.42],[7.5,.92,.46,-.4,-.42],[8,.85,.44,-.38,-.42],[8.5,.78,.38,-.36,-.5],[9,.7,.34,-.31,-.54],[9.5,.6,.3,-.28,-.54],[10,.46,.26,-.22,-.5],[10.25,.26,.12,-.12,-.34]];
const loessVII = [[4.8,.9,.27],[5.5,.68,.08],[6,.57,.03],[7,.4,.02],[8,.27,.02],[9,.16,.02],[10,.06,.02],[11,-.06,.05],[12,-.15,.1],[12.4,-.2,.12]];

const redVIII: P[] = [[7.46,2.76],[8.48,2.53],[4.91,2.43],[5.96,2.48],[6.13,2.39],[7.35,2.39],[7.06,2.19],[7.21,2.16],[8.42,2.12],[9.1,2.13],[9.58,2],[6.01,1.98],[4.91,1.81],[7.38,1.82],[6.07,1.78],[6.1,1.74],[5.87,1.61],[6.21,1.66],[6.38,1.71],[6.01,1.48],[6.24,1.33],[6.78,1.66],[6.87,1.49],[7.04,1.43],[7.44,1.5],[8.32,1.52],[8.65,1.44],[9.45,1.5],[9.65,1.36],[9.02,1.39],[9.14,1.41],[8.25,1.28],[7.97,1.17],[7.6,1.23],[7.4,1.17],[6.93,1.23],[6.52,1.22],[6.7,1.14],[7.17,1.11],[7.78,1.06],[8.79,.98],[9.1,1.04],[9.48,.98],[9.79,.94],[10.52,.95],[10.56,.89],[10.9,1.03],[10.41,.83],[5.93,.99],[5.7,.92],[5.54,.81],[6.24,.83],[6.55,.79],[6.86,.73],[7.94,.92],[8.56,.79],[8.86,.73],[9.25,.67],[9.79,.73],[10.18,.67],[10.56,.7],[10.8,.38],[10.25,.42],[10.41,.54],
[5.39,-.93],[5.62,-1.29],[5.93,-1.44],[6.36,-1.43],[6.42,-1.52],[6.86,-1.75],[5.95,-1.84],[5.7,-2.23],[6.22,-1.18],[6.47,-1.11],[6.98,-1.38],[7.24,-1.3],[7.98,-1.28],[8.28,-1.43],[8.32,-1.19],[8.79,-1.16],[9.33,-1.07],[9.71,-1.14],[9.68,-.96],[9.25,-.96],[8.71,-.86],[10.15,-.75],[10.52,-.66],[10.56,-.52],[10.87,-.41],[11.34,-.32],[10.25,-.55],[10.02,-.46],[7.63,-1.02],[7.4,-.96],[6.55,-.99],[6.78,-.93],[6.01,-.83],[9.95,-.68],[9.02,-.77],[8.4,-.89]];
const moreRedVIII: P[] = [[6,.62],[6.2,.72],[6.35,.62],[6.5,.78],[6.7,.68],[6.85,.8],[7.05,.65],[7.2,.82],[7.4,.62],[7.6,.72],[7.75,.6],[7.95,.78],[8.1,.62],[8.3,.7],[8.5,.55],[8.7,.68],[8.9,.52],[9.1,.62],[9.35,.5],[9.55,.6],[9.75,.48],[9.95,.55],[10.15,.4],[10.35,.45],[6.1,-.72],[6.3,-.82],[6.5,-.75],[6.7,-.88],[6.9,-.78],[7.1,-.95],[7.3,-.85],[7.55,-.92],[7.8,-.75],[8,-.88],[8.2,-.72],[8.45,-.88],[8.7,-.72],[8.9,-.8],[9.15,-.68],[9.35,-.78],[9.6,-.62],[9.85,-.7],[10.05,-.55],[10.25,-.62],[10.45,-.42]];
const blackVIII: P[] = [[4.73,-.3],[4.96,-.21],[5.08,.09],[5.28,.14],[5.31,-.27],[5.34,-.14],[5.28,-.66],[5.62,-.49],[5.75,-.71],[5.68,-.94],[5.93,-.94],[6.18,-.8],[5.73,-1.43],[5.31,.48],[5.47,.51],[5.78,.5],[6.42,.72],[6.52,-.74],[6.98,-.96],[7.35,-.8],[11.38,.19],[10.56,.04],[10.69,-.08],[10.87,-.11],[10.9,-.26],[10.61,.32],[10.18,.51],[10.1,.39],[9.17,.39],[8.17,-.43]];
const moreBlackVIII: P[] = [[5.75,.3],[5.72,.05],[5.75,-.2],[5.8,-.4],[5.9,.45],[6.1,.52],[6.4,.55],[6.8,.58],[7.2,.52],[7.6,.48],[8,.48],[8.4,.44],[8.8,.38],[9.2,.34],[9.6,.3],[10,.26],[10.3,.2],[5.95,-.6],[6.3,-.68],[6.7,-.7],[7.1,-.75],[7.5,-.74],[7.85,-.6],[8.3,-.52],[8.8,-.45],[9.3,-.38],[9.8,-.32],[10.2,-.25]];
const envVIII = [[5.8,.28,.28,-.42,-.42],[6,.48,.44,-.58,-.66],[6.5,.56,.5,-.6,-.74],[7,.6,.5,-.66,-.82],[7.5,.58,.42,-.66,-.8],[8,.55,.42,-.5,-.72],[8.5,.5,.36,-.45,-.72],[9,.46,.32,-.38,-.65],[9.5,.42,.27,-.32,-.6],[10,.32,.22,-.27,-.5],[10.35,.2,.12,-.17,-.32]];
const loessVIII = [[4.7,.18,.25],[5,.13,.18],[5.5,.05,.06],[6,.01,.02],[7,.01,.02],[8,-.01,.02],[9,0,.02],[10,0,.03],[11,0,.08],[12.4,0,.14]];

// ---------- panel tables ----------
const scatterPanels = [
  { n: "I", rest: ": MACS2 | DiffBind (DESeq2) - full library size", up: "453 increasing (47.9%)", dn: "492 decreasing (52.1%)", red: [...redI, ...moreRedI], black: [...blackI, ...moreBlackI], env: envI, loess: loessI, box: [83, 432, 103, 456], xt: [6, 14], xp: [99, 414.5], yp: [117, 440], ticks: [6, 8, 10, 12, 14], tx: 258.5, ty: 88, upY: 117, dnY: 439, xlab: 0, xlX: 257.6, xlY: 490, xtY: 469, l1: [14, 282], l2: [40, 278], lw: 3.5 },
  { n: "II", rest: ": MACS2 | DiffBind (DESeq2) - reads in peaks", up: "509 increasing (48.4%)", dn: "543 decreasing (5.16%)", red: [...redII, ...moreRedII], black: [...blackII, ...moreBlackII], env: envII, loess: loessII, box: [82, 432, 542, 896], xt: [6, 14], xp: [97.6, 416], yp: [557, 877], ticks: [6, 8, 10, 12, 14], tx: 253, ty: 529, upY: 556, dnY: 877, xlab: 0, xlX: 251, xlY: 931, xtY: 909, l1: [11, 720], l2: [38, 716], lw: 3.5 },
  { n: "III", rest: ": MACS2 | csaw (edgeR) - TMM", up: "284 increasing (61.5%)", dn: "454 decreasing (38.5%)", red: [...redIII, ...moreRedIII], black: [...blackIII, ...moreBlackIII], env: envIII, loess: loessIII, box: [85.5, 439, 979, 1330], xt: [4, 12], xp: [99, 425], yp: [994, 1314], ticks: [4, 6, 8, 10, 12], tx: 261, ty: 966, upY: 994, dnY: 1312, xlab: 1, xlX: 265, xlY: 1367, xtY: 1345, l1: [19, 1157], l2: [46, 1154], lw: 3.5 },
  { n: "IV", rest: ": MACS2 | csaw (edgeR) - loess", up: "415 increasing (51.5%)", dn: "391 decreasing (48.5%)", red: [...redIV, ...moreRedIV], black: [...blackIV, ...moreBlackIV], env: envIV, loess: loessIV, box: [85.5, 439, 1420, 1771], xt: [4, 12], xp: [100, 426], yp: [1434, 1754], ticks: [4, 6, 8, 10, 12], tx: 262.5, ty: 1402, upY: 1434, dnY: 1752, xlab: 1, xlX: 266, xlY: 1804, xtY: 1784, l1: [13, 1596], l2: [40, 1593], lw: 3.5 },
  { n: "V", rest: ": csaw local 3FC (edgeR) - TMM", up: "248 increasing (49.1%)", dn: "257 decreasing (50.9%)", red: [...redV, ...moreRedV], black: [...blackV, ...moreBlackV], env: envV, loess: loessV, box: [1094.5, 1443.5, 100, 453], xt: [4, 10], xp: [1110, 1427], yp: [116, 436], ticks: [4, 5, 6, 7, 8, 9, 10], tx: 1265, ty: 89, upY: 114, dnY: 435, xlab: 1, xlX: 1270, xlY: 488, xtY: 468, l1: [1021.5, 277.5], l2: [1050, 274], lw: 3.5 },
  { n: "VI", rest: ": csaw local 3FC (edgeR) - loess", up: "274 increasing (55.8%)", dn: "217 decreasing (44.2%)", red: [...redVI, ...moreRedVI], black: [...blackVI, ...moreBlackVI], env: envVI, loess: loessVI, box: [1093, 1442, 542, 895], xt: [4, 10], xp: [1108.6, 1426], yp: [557, 877], ticks: [4, 5, 6, 7, 8, 9, 10], tx: 1263, ty: 526, upY: 556, dnY: 878, xlab: 1, xlX: 1269, xlY: 928, xtY: 908, l1: [1021.5, 719], l2: [1050, 715], lw: 3.5 },
  { n: "VII", rest: ": MACS2 | voom (limma)", up: "936 increasing (86.5%)", dn: "146 decreasing (13.5%)", red: [...redVII, ...moreRedVII], black: [...blackVII, ...moreBlackVII], env: envVII, loess: loessVII, box: [1092, 1443, 978, 1332], xt: [4, 12], xp: [1108, 1426], yp: [994, 1316], ticks: [4, 6, 8, 10, 12], tx: 1267, ty: 965, upY: 995, dnY: 1317, xlab: 1, xlX: 1266, xlY: 1367, xtY: 1344, l1: [1023, 1156], l2: [1052, 1152.5], lw: 3.5 },
  { n: "VIII", rest: ": MACS2 | voom (limma) - quantile", up: "395 increasing (48.3%)", dn: "423 decreasing (51.7%)", red: [...redVIII, ...moreRedVIII], black: [...blackVIII, ...moreBlackVIII], env: envVIII, loess: loessVIII, box: [1092, 1443, 1420, 1774], xt: [4, 12], xp: [1107, 1425], yp: [1437, 1758], ticks: [4, 6, 8, 10, 12], tx: 1265, ty: 1408, upY: 1435, dnY: 1756, xlab: 1, xlX: 1267.5, xlY: 1809, xtY: 1789, l1: [1021.5, 1598], l2: [1050, 1595], lw: 2 },
];

const lineDefaultTicks = [-0.2, -0.1, 0, 0.1, 0.2];
const lineDefaultMinor = [-0.25, -0.15, -0.05, 0.05, 0.15, 0.25];
const linePanels = [
  { n: "I", rest: ": MACS2 | DiffBind (DESeq2) - full library size", up: upI, st: stI, dn: dnI, xp: [561, 934], yd: [-.25, .25], yp: [421, 140], tx: 747.5, ty: 122, xtY: 437, xlX: 749, xlY: 462, l1: [475, 280], l2: [500.6, 280] },
  { n: "II", rest: ": MACS2 | DiffBind (DESeq2) - reads in peaks", up: upII, st: stII, dn: dnII, xp: [562.5, 935.5], yd: [-.25, .25], yp: [856, 575], tx: 748, ty: 556, xtY: 871, xlX: 749, xlY: 897, l1: [475, 716], l2: [500.6, 714] },
  { n: "III", rest: ": MACS2 | csaw (edgeR) - TMM", up: upIII, st: stIII, dn: dnIII, xp: [564, 937], yd: [-.25, .25], yp: [1292, 1012], tx: 756, ty: 996, xtY: 1309, xlX: 753, xlY: 1334, l1: [477, 1154], l2: [504, 1152] },
  { n: "IV", rest: ": MACS2 | csaw (edgeR) - loess", up: upIV, st: stIV, dn: dnIV, xp: [564.5, 935.5], yd: [-.25, .25], yp: [1734, 1455], tx: 751, ty: 1437, xtY: 1750, xlX: 756, xlY: 1774, l1: [477, 1596], l2: [502.5, 1595] },
  { n: "V", rest: ": csaw local 3FC (edgeR) -  TMM", up: upV, st: stV, dn: dnV, xp: [1574, 1947], yd: [-.25, .25], yp: [410, 131], tx: 1759, ty: 116, xtY: 428, xlX: 1762, xlY: 454, l1: [1485, 270.5], l2: [1510, 270] },
  { n: "VI", rest: ": csaw local 3FC (edgeR) -  loess", up: upVI, st: stVI, dn: dnVI, xp: [1573.6, 1947], yd: [-.25, .25], yp: [851, 571], tx: 1760, ty: 556, xtY: 868, xlX: 1760, xlY: 893, l1: [1486, 712], l2: [1512, 712] },
  { n: "VII", rest: ": MACS2 | voom (limma)", up: upVII, st: stVII, dn: dnVII, xp: [1575, 1947], yd: [-.2, .6], yp: [1295, 1011], tx: 1760.5, ty: 994, xtY: 1313, xlX: 1762, xlY: 1338, l1: [1488, 1151], l2: [1514, 1151], ticks: [-.2, 0, .2, .4, .6], minor: [-.1, .1, .3, .5] },
  { n: "VIII", rest: ": MACS2 | voom (limma) - quantile", up: upVIII, st: stVIII, dn: dnVIII, xp: [1575.5, 1943.5], yd: [-.25, .25], yp: [1739, 1456], tx: 1760, ty: 1445, xtY: 1757, xlX: 1758, xlY: 1782, l1: [1486, 1598], l2: [1512, 1598] },
];

const FS = 21.5;
const T = (p: any) => <text fontFamily={FONT} fontSize={FS} fill="#111" dominantBaseline="central" {...p} />;
const Sub = ({ base, sub, after }: any) => (
  <>
    {base}
    <tspan dy={6} fontSize={13}>{sub}</tspan>
    <tspan dy={-6}>{after}</tspan>
  </>
);
const Title = ({ n, rest, x, y }: any) => (
  <T x={x} y={y} textAnchor="middle" style={{ whiteSpace: "pre" }}>
    <tspan fontWeight="bold" fontStyle="italic">{n}</tspan>
    {rest}
  </T>
);
const YLab = ({ x, y, children }: any) => (
  <T textAnchor="middle" transform={`translate(${x},${y}) rotate(-90)`}>{children}</T>
);

const DOT = 3.9;
function Scatter({ p, id }: any) {
  const [L, R, Tp, B] = p.box;
  const x = d3.scaleLinear().domain(p.xt).range(p.xp);
  const y = d3.scaleLinear().domain([3, -3]).range(p.yp);
  const cid = `clip${id}`;
  const redArea = d3.area<number[]>().x((d) => x(d[0])).y0((d) => y(d[4])).y1((d) => y(d[1]));
  const blkArea = d3.area<number[]>().x((d) => x(d[0])).y0((d) => y(d[3])).y1((d) => y(d[2]));
  const band = d3.area<number[]>().x((d) => x(d[0])).y0((d) => y(d[1] - d[2])).y1((d) => y(d[1] + d[2])).curve(d3.curveMonotoneX);
  const line = d3.line<number[]>().x((d) => x(d[0])).y((d) => y(d[1])).curve(d3.curveMonotoneX);
  return (
    <g>
      <clipPath id={cid}><rect x={L} y={Tp} width={R - L} height={B - Tp} /></clipPath>
      <Title n={p.n} rest={p.rest} x={p.tx} y={p.ty} />
      <g clipPath={`url(#${cid})`}>
        <line x1={L} x2={R} y1={y(0)} y2={y(0)} stroke="#000" strokeWidth={2} />
        <path d={redArea(p.env) || ""} fill={RED} />
        {p.red.map((d: P, i: number) => <circle key={i} cx={x(d[0])} cy={y(d[1])} r={DOT} fill={RED} />)}
        <path d={blkArea(p.env) || ""} fill="#000" />
        {p.black.map((d: P, i: number) => <circle key={i} cx={x(d[0])} cy={y(d[1])} r={DOT} fill="#000" />)}
        <path d={band(p.loess) || ""} fill="#999" fillOpacity={0.4} />
        <path d={line(p.loess) || ""} fill="none" stroke={LOESS} strokeWidth={p.lw} />
      </g>
      <rect x={L} y={Tp} width={R - L} height={B - Tp} fill="none" stroke="#222" strokeWidth={2} />
      {[3, 2, 1, 0, -1, -2, -3].map((t) => (
        <g key={t}>
          <line x1={L - 4} x2={L} y1={y(t)} y2={y(t)} stroke="#222" strokeWidth={1.5} />
          <T x={L - 5} y={y(t)} textAnchor="end">{t < 0 ? `\u2212${-t}` : t}</T>
        </g>
      ))}
      {p.ticks.map((t: number) => (
        <g key={t}>
          <line x1={x(t)} x2={x(t)} y1={B} y2={B + 4} stroke="#222" strokeWidth={1.5} />
          <T x={x(t) - 1} y={p.xtY} textAnchor="middle">{t}</T>
        </g>
      ))}
      <T x={R - 9} y={p.upY} textAnchor="end">{p.up}</T>
      <T x={R - 9} y={p.dnY} textAnchor="end">{p.dn}</T>
      <T x={p.xlX} y={p.xlY} textAnchor="middle">
        {p.xlab === 0
          ? <Sub base="Concentration (log" sub="2" after=" normalized counts)" />
          : <Sub base="log" sub="2" after="CPM" />}
      </T>
      <YLab x={p.l1[0]} y={p.l1[1]}><Sub base="log" sub="2" after="FC" /></YLab>
      <YLab x={p.l2[0]} y={p.l2[1]}>(15 min. vs. 0 min. control)</YLab>
    </g>
  );
}

function Lines({ p }: any) {
  const x = d3.scaleLinear().domain([0, 60]).range(p.xp);
  const y = d3.scaleLinear().domain(p.yd).range(p.yp);
  const line = d3.line<number>().x((_, i) => x(minutes[i])).y((d) => y(d));
  const ticks = p.ticks || lineDefaultTicks;
  const minor = p.minor || lineDefaultMinor;
  const series = [[p.st, GRAY], [p.up, RED], [p.dn, BLUE]] as [number[], string][];
  const top = y(p.yd[1]), bot = y(p.yd[0]);
  return (
    <g>
      <Title n={p.n} rest={p.rest} x={p.tx} y={p.ty} />
      <line x1={x(0)} x2={x(0)} y1={top} y2={bot} stroke="#111" strokeWidth={1.8} />
      <line x1={x(0) - 4} x2={x(60)} y1={bot} y2={bot} stroke="#111" strokeWidth={2.4} />
      {minor.map((t: number) => <line key={t} x1={x(0) - 4} x2={x(0)} y1={y(t)} y2={y(t)} stroke="#111" strokeWidth={1.4} />)}
      {ticks.map((t: number) => (
        <g key={t}>
          <line x1={x(0) - 5} x2={x(0)} y1={y(t)} y2={y(t)} stroke="#111" strokeWidth={1.5} />
          <T x={x(0) - 8} y={y(t)} textAnchor="end">{t === 0 ? "0" : String(t)}</T>
        </g>
      ))}
      {minutes.map((t) => (
        <g key={t}>
          <line x1={x(t)} x2={x(t)} y1={bot} y2={bot + 5} stroke="#111" strokeWidth={1.5} />
          <T x={x(t)} y={p.xtY} textAnchor="middle">{t}</T>
        </g>
      ))}
      <line x1={x(0)} x2={x(60)} y1={y(0)} y2={y(0)} stroke="#000" strokeWidth={2} strokeDasharray="7 5" />
      {series.map(([vals, c], k) => (
        <g key={k}>
          <path d={line(vals) || ""} fill="none" stroke={c} strokeWidth={2} />
          {vals.map((v, i) => <circle key={i} cx={x(minutes[i])} cy={y(v)} r={3.8} fill={c} />)}
        </g>
      ))}
      <T x={p.xlX} y={p.xlY} textAnchor="middle">0.6M NaCl exposure (min.)</T>
      <YLab x={p.l1[0]} y={p.l1[1]}><Sub base="Mean DA log" sub="2" after="FC" /></YLab>
      <YLab x={p.l2[0]} y={p.l2[1]}>(vs. 0 min. control)</YLab>
    </g>
  );
}

const legendItems: [number, number, string, string][] = [
  [1027.6, 1041, "Stable genes", GRAY],
  [1192, 1205.5, "Upregulated genes", RED],
  [1414, 1427.6, "Downregulated genes", BLUE],
];

export default function App() {
  return (
    <svg width={1962} height={1825} viewBox="0 0 1962 1825" style={{ position: "absolute", left: 0, top: 0, display: "block", background: "#fff" }}>
      <T x={1028} y={11} textAnchor="middle" fontWeight="bold">
        Schep <tspan fontStyle="italic">et al.</tspan> yeast osmotic ATAC-seq differential accessibility (0.6M NaCl exposure time series)
      </T>
      <line x1={2} x2={1943} y1={28} y2={28} stroke="#222" strokeWidth={2} />
      <T x={90} y={54} fontWeight="bold">Significance:</T>
      <circle cx={236} cy={55} r={3} fill="#000" />
      <T x={247} y={54}>n.s.</T>
      <circle cx={300} cy={55} r={3} fill={RED} />
      <T x={312} y={54}>FDR&lt;0.05</T>
      <T x={455} y={54} fontWeight="bold">Promoter ATAC regions classified by gene expression:</T>
      {legendItems.map(([mx, tx, label, c]) => (
        <g key={label}>
          <line x1={mx - 7} x2={mx + 7} y1={55} y2={55} stroke={c} strokeWidth={2} />
          <circle cx={mx} cy={55} r={3.6} fill={c} />
          <T x={tx} y={54}>{label}</T>
        </g>
      ))}
      {scatterPanels.map((p, i) => <Scatter key={p.n} p={p} id={i} />)}
      {linePanels.map((p) => <Lines key={p.n} p={p} />)}
    </svg>
  );
}
